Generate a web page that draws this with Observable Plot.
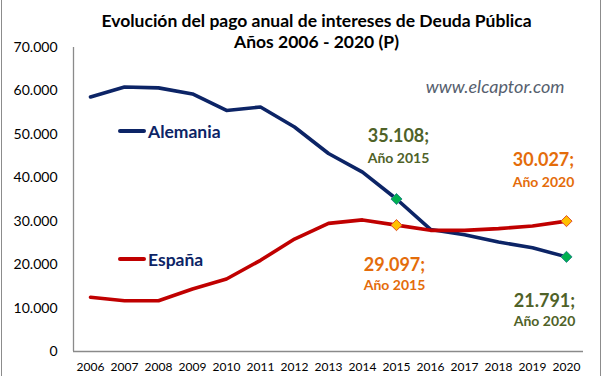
<!DOCTYPE html>
<html><head><meta charset="utf-8">
<script src="https://cdn.jsdelivr.net/npm/d3@7"></script>
<script src="https://cdn.jsdelivr.net/npm/@observablehq/plot@0.6"></script>
<style>
body{margin:0;background:#fff;font-family:Lato,sans-serif}
#wrap{position:relative;width:602px;height:376px;overflow:hidden}
#frame{position:absolute;left:1px;right:1px;top:-2px;bottom:-2px;border:1px solid #8c8c8c;pointer-events:none}
.leg{position:absolute;display:flex;align-items:center;font:bold 17.5px Lato,sans-serif;color:#0c2466}
.leg span.sw{display:inline-block;width:28px;height:4px;border-radius:2px;margin-right:2px}
</style></head>
<body><div id="wrap"><div id="frame"></div></div>
<script>
const years = [2006,2007,2008,2009,2010,2011,2012,2013,2014,2015,2016,2017,2018,2019,2020];
const alemania = [58600,60900,60700,59300,55500,56300,51700,45600,41300,35108,28100,26900,25200,23900,21791];
const espana = [12500,11700,11700,14400,16700,21000,25900,29500,30300,29097,27900,27900,28300,28900,30027];
const yTicks = [0,10000,20000,30000,40000,50000,60000,70000];
const highlightYears = [2015,2020];
const titleLines = ["Evolución del pago anual de intereses de Deuda Pública","Años 2006 - 2020 (P)"];
const watermark = "www.elcaptor.com";

const colors = {Alemania:"#0c2466", "España":"#c00000"};
const rows = years.flatMap((year,i)=>[
  {year, value:alemania[i], serie:"Alemania"},
  {year, value:espana[i], serie:"España"}
]);
const fmt = d => d === 0 ? "0" : d3.format(",")(d).replace(/,/g,".");
const hl = rows.filter(r => highlightYears.includes(r.year));
const labelStyle = {
  Alemania:{fill:"#4f6228", dot:"#00b050", dotStroke:"#2e8a8a",
    offsets:{2015:[2,-63,-41], 2020:[-22,44,65]}},
  "España":{fill:"#e46c0a", dot:"#ffc000", dotStroke:"#e0502a",
    offsets:{2015:[-2,40,60], 2020:[-23,-61,-39]}}
};
const annot = hl.flatMap(r => {
  const s = labelStyle[r.serie]; const [dx,dy1,dy2] = s.offsets[r.year];
  return [
    Plot.text([r],{x:"year",y:"value",text:d=>fmt(d.value)+";",dx,dy:dy1,fill:s.fill,fontSize:18,fontWeight:"bold"}),
    Plot.text([r],{x:"year",y:"value",text:d=>"Año "+d.year,dx,dy:dy2,fill:s.fill,fontSize:14,fontWeight:"bold"})
  ];
});

const chart = Plot.plot({
  width:602, height:376,
  marginLeft:73, marginRight:19, marginTop:47, marginBottom:25,
  style:{fontFamily:"Lato, sans-serif", background:"transparent"},
  x:{type:"point", domain:years, padding:0.5},
  y:{domain:[0,70000]},
  marks:[
    Plot.ruleY([0],{stroke:"#8a8a8a", strokeWidth:1.3}),
    Plot.ruleX([years[0]],{dx:-17, stroke:"#8a8a8a", strokeWidth:1.3}),
    Plot.axisY({ticks:yTicks, tickSize:0, tickPadding:16, tickFormat:fmt, fontSize:14, fill:"#000", label:null}),
    Plot.axisX({tickSize:0, tickPadding:11, tickFormat:d=>String(d), fontSize:12, fill:"#000", label:null}),
    Plot.lineY(rows,{x:"year", y:"value", z:"serie", stroke:d=>colors[d.serie], strokeWidth:3.6, strokeLinejoin:"round"}),
    Plot.dot(hl,{x:"year", y:"value", symbol:"diamond2", r:5, fill:d=>labelStyle[d.serie].dot, stroke:d=>labelStyle[d.serie].dotStroke, strokeWidth:1}),
    ...annot,
    Plot.text([titleLines[0]],{frameAnchor:"top", dx:-12, dy:-33, fontSize:17.5, fontWeight:"bold", fill:"#000"}),
    Plot.text([titleLines[1]],{frameAnchor:"top", dx:-12, dy:-12, fontSize:17.5, fontWeight:"bold", fill:"#000"}),
    Plot.text([watermark],{frameAnchor:"top-right", dx:-19, dy:33, fontSize:18, fontStyle:"italic", fill:"#56606e"})
  ]
});
const wrap = document.getElementById("wrap");
wrap.insertBefore(chart, wrap.firstChild);
const legends = [["Alemania",118,131],["España",118,259]];
for (const [name,x,y] of legends){
  const d = document.createElement("div"); d.className="leg";
  d.style.left = x+"px"; d.style.top = (y-11)+"px"; d.style.height="22px";
  d.innerHTML = `<span class="sw" style="background:${colors[name]}"></span>${name}`;
  wrap.appendChild(d);
}
</script></body></html>
